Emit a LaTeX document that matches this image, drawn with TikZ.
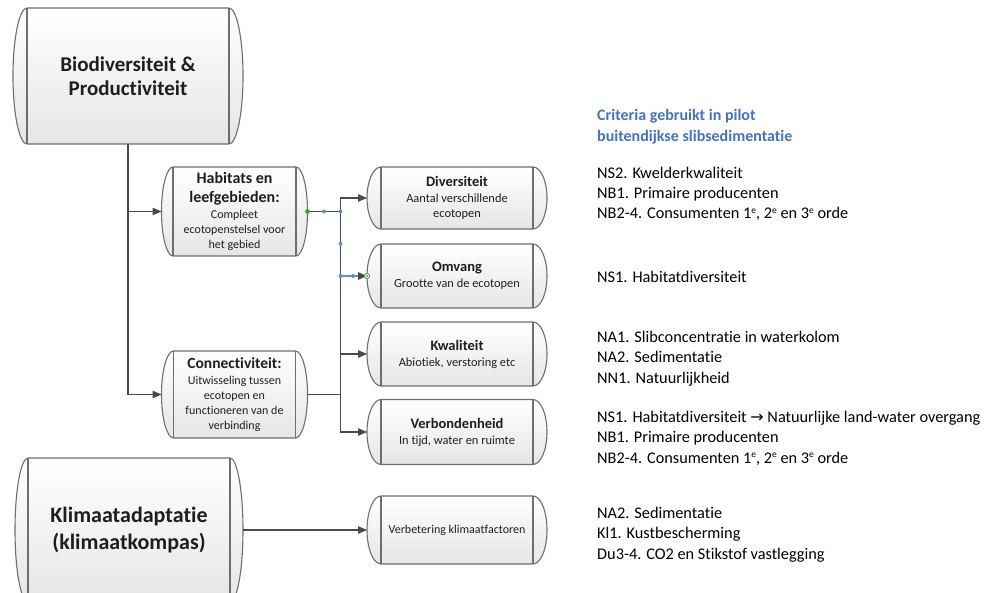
\documentclass[tikz,border=0pt]{standalone}
\usepackage{fontspec}
\setmainfont{Carlito}[Ligatures=NoCommon]
\newfontfamily\dejavu{DejaVu Sans}
\usetikzlibrary{arrows.meta,calc}
\pgfdeclarelayer{background}
\pgfsetlayers{background,main}
\definecolor{boxgray}{HTML}{6E6E6E}
\definecolor{linegray}{HTML}{4A4A4A}
\definecolor{txt}{HTML}{1E1E1E}
\definecolor{titleblue}{HTML}{4472C4}
\definecolor{handleblue}{HTML}{5B8FDB}
\definecolor{handlegreen}{HTML}{2EA82E}
\newcommand\supe{\raisebox{0.75ex}{\fontsize{9.5}{9.5}\selectfont e}}
\tikzset{
  barrelnode/.style={inner sep=0pt, outer sep=0pt, align=center, text=txt},
  boxfill/.style={draw=boxgray, line width=1.1pt, top color=white, bottom color=black!10},
  boxline/.style={draw=boxgray, line width=1.1pt},
  conn/.style={draw=linegray, line width=1.1pt, -{Triangle[length=9pt,width=7.5pt]}},
  plainline/.style={draw=linegray, line width=1.1pt},
  crit/.style={anchor=base west, align=left, inner sep=0pt, font=\fontsize{16.3}{20.2}\selectfont, text=black},
  smallbox/.style={barrelnode, minimum width=180, minimum height=62, font=\fontsize{12.4}{15}\selectfont},
}
\newcommand\barrel[2]{%
  \begin{pgfonlayer}{background}
    \path[boxfill] let \p1=(#1.north), \p2=(#1.south), \n1={(\y1-\y2)/2} in
      ([xshift=#2pt]#1.north west) -- ([xshift=-#2pt]#1.north east)
      arc[start angle=90, end angle=-90, x radius=#2pt, y radius=\n1]
      -- ([xshift=#2pt]#1.south west)
      arc[start angle=270, end angle=90, x radius=#2pt, y radius=\n1] -- cycle;
    \draw[boxline] ([xshift=#2pt]#1.north west) -- ([xshift=#2pt]#1.south west)
      ([xshift=-#2pt]#1.north east) -- ([xshift=-#2pt]#1.south east);
  \end{pgfonlayer}}
\begin{document}
\begin{tikzpicture}[x=1pt, y=-1pt]
\useasboundingbox (0,0) rectangle (1008,593);

% boxes
\node[barrelnode, minimum width=230, minimum height=136, font=\bfseries\fontsize{21}{24}\selectfont] (bio) at (128,76) {Biodiversiteit \&\\Productiviteit};
\barrel{bio}{14}
\node[barrelnode, minimum width=146, minimum height=89, font=\fontsize{12}{15}\selectfont] (hab) at (234.5,211.5)
  {{\bfseries\fontsize{16}{15}\selectfont Habitats en}\\[4pt]{\bfseries\fontsize{16}{15}\selectfont leefgebieden:}\\[1pt]Compleet\\ecotopenstelsel voor\\het gebied};
\barrel{hab}{11.5}
\node[barrelnode, minimum width=146, minimum height=87, font=\fontsize{12}{15}\selectfont] (con) at (234.5,394.5)
  {{\bfseries\fontsize{15.5}{15}\selectfont Connectiviteit:}\\[1.5pt]Uitwisseling tussen\\ecotopen en\\functioneren van de\\verbinding};
\barrel{con}{12}
\node[smallbox] (div) at (457,198) {{\bfseries\fontsize{14.5}{15}\selectfont Diversiteit}\\[1pt]Aantal verschillende\\ecotopen};
\barrel{div}{14}
\node[smallbox, minimum height=64] (omv) at (457,276) {{\bfseries\fontsize{14.5}{15}\selectfont Omvang}\\[1pt]Grootte van de ecotopen};
\barrel{omv}{14}
\node[smallbox, minimum height=64] (kwal) at (457,354) {{\bfseries\fontsize{14.5}{15}\selectfont Kwaliteit}\\[1pt]Abiotiek, verstoring etc};
\barrel{kwal}{14}
\node[smallbox, minimum height=65] (verb) at (457,432) {{\bfseries\fontsize{14.5}{15}\selectfont Verbondenheid}\\[1pt]In tijd, water en ruimte};
\barrel{verb}{14}
\node[barrelnode, minimum width=228, minimum height=144, font=\bfseries\fontsize{22}{27}\selectfont] (klim) at (129,530) {Klimaatadaptatie\\(klimaatkompas)};
\barrel{klim}{13}
\node[smallbox, minimum height=68, font=\fontsize{12}{14}\selectfont] (verbet) at (457,530) {Verbetering klimaatfactoren};
\barrel{verbet}{14}

% connectors
\draw[conn] (bio.south) |- (hab.west);
\draw[conn] (bio.south) |- (con.west);
\coordinate (jh) at ([xshift=33pt]hab.east);
\coordinate (jc) at (jh |- con.east);
\draw[plainline] (hab.east) -- (jh);
\draw[conn] (jh) |- (div.west);
\draw[conn] (jh) |- (omv.west);
\draw[plainline] (jh) -- (jc);
\draw[plainline] (con.east) -- (jc);
\draw[conn] (jc) |- (kwal.west);
\draw[conn] (jc) |- (verb.west);
\draw[conn] (klim.east) -- (verbet.west);

% selection handles
\draw[handleblue, line width=1.1pt] (jh |- omv.west) -- ([xshift=-9pt]omv.west);
\fill[handlegreen] (hab.east) circle (2.4pt);
\fill[handleblue] ($(hab.east)!0.5!(jh)$) circle (2pt);
\fill[handleblue] (jh) circle (2pt);
\fill[handleblue] ($(jh)!0.5!(jh |- omv.west)$) circle (2pt);
\fill[handleblue] (jh |- omv.west) circle (2pt);
\fill[handleblue] ([xshift=-14pt]omv.west) circle (2pt);
\draw[handlegreen, fill=white, line width=0.8pt] (omv.west) circle (2.6pt);
\fill[handlegreen] (omv.west) circle (1pt);

% criteria text (anchor = baseline of last line)
\node[crit, text=titleblue, font=\bfseries\fontsize{16}{21}\selectfont] (title) at (597,142) {Criteria gebruikt in pilot\\buitendijkse slibsedimentatie};
\node[crit] (g1) at (597,219) {NS2. Kwelderkwaliteit\\NB1. Primaire producenten\\NB2-4. Consumenten 1\supe, 2\supe{} en 3\supe{} orde};
\node[crit] (g2) at (597,283) {NS1. Habitatdiversiteit};
\node[crit] (g3) at (597,383) {NA1. Slibconcentratie in waterkolom\\NA2. Sedimentatie\\NN1. Natuurlijkheid};
\node[crit] (g4) at (597,463) {NS1. Habitatdiversiteit {\dejavu\fontsize{16}{15}\selectfont →} Natuurlijke land-water overgang\\NB1. Primaire producenten\\NB2-4. Consumenten 1\supe, 2\supe{} en 3\supe{} orde};
\node[crit] (g5) at (597,559) {NA2. Sedimentatie\\Kl1. Kustbescherming\\Du3-4. CO2 en Stikstof vastlegging};
\end{tikzpicture}
\end{document}
